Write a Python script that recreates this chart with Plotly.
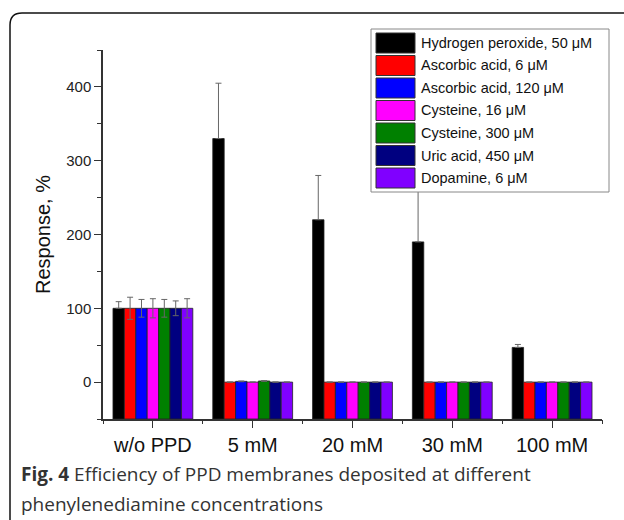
import plotly.graph_objects as go

# ---------------- data ----------------
categories = ["w/o PPD", "5 mM", "20 mM", "30 mM", "100 mM"]
series_names = [
    "Hydrogen peroxide, 50 μM",
    "Ascorbic acid, 6 μM",
    "Ascorbic acid, 120 μM",
    "Cysteine, 16 μM",
    "Cysteine, 300 μM",
    "Uric acid, 450 μM",
    "Dopamine, 6 μM",
]
series_colors = ["#000000", "#FF0000", "#0000FF", "#FF00FF", "#008000", "#000080", "#8000FF"]

h2o2 = [100, 330, 220, 190, 47]
h2o2_err = [9, 75, 60, 75, 4]
asc6 = [100, 0, 0, 0, 0]
asc6_err = [15, 0, 0, 0, 0]
asc120 = [100, 1, 0, 0, 0]
asc120_err = [12, 0.5, 0, 0, 0]
cys16 = [100, 0, 0, 0, 0]
cys16_err = [13, 0, 0, 0, 0]
cys300 = [100, 1.5, 0, 0, 0]
cys300_err = [12, 0.5, 0, 0, 0]
uric = [100, 0, 0, 0, 0]
uric_err = [10, 0, 0, 0, 0]
dopa = [100, 0, 0, 0, 0]
dopa_err = [13, 0, 0, 0, 0]

values = [h2o2, asc6, asc120, cys16, cys300, uric, dopa]
errors = [h2o2_err, asc6_err, asc120_err, cys16_err, cys300_err, uric_err, dopa_err]

y_min, y_max = -50, 450
y_ticks = [0, 100, 200, 300, 400]

FONT = "Arial, Liberation Sans, sans-serif"

# ---------------- layout geometry (pixels) ----------------
W, H = 624, 520
L, R, T, B = 103, 22, 50, 101
PW, PH = W - L - R, H - T - B

def px(x):
    return (x - L) / PW

def py(y):
    return (H - B - y) / PH

fig = go.Figure()

for name, color, vals, errs in zip(series_names, series_colors, values, errors):
    dark = color == "#000000"
    fig.add_trace(go.Bar(
        x=categories,
        y=[v - y_min for v in vals],
        base=y_min,
        name=name,
        marker=dict(color=color, line=dict(color="#222222", width=0.8)),
        error_y=dict(type="data", array=errs, symmetric=not dark,
                     arrayminus=[0] * len(errs) if dark else None, visible=True,
                     color="#666666", thickness=1, width=3),
        showlegend=False,
    ))

# overlay axis for boundary ticks
fig.add_trace(go.Scatter(x=[-0.5, 4.5], y=[0, 0], xaxis="x2", mode="none",
                         showlegend=False, hoverinfo="skip"))

axis_col = "#333333"
fig.update_layout(
    width=W, height=H,
    margin=dict(l=L, r=R, t=T, b=B, pad=0),
    paper_bgcolor="white", plot_bgcolor="white",
    barmode="group", bargap=0.2, bargroupgap=0,
    font=dict(family=FONT, color="#111111"),
    xaxis=dict(
        type="category", categoryorder="array", categoryarray=categories,
        showline=True, linecolor=axis_col, linewidth=1.5,
        ticks="outside", ticklen=7, tickwidth=1.2, tickcolor=axis_col,
        tickfont=dict(size=20, color="#111111", family=FONT),
        showgrid=False, zeroline=False, range=[-0.5, 4.5],
    ),
    xaxis2=dict(
        overlaying="x", range=[-0.5, 4.5],
        tickmode="array", tickvals=[-0.5, 0.5, 1.5, 2.5, 3.5, 4.5],
        ticks="outside", ticklen=4, tickwidth=1.2, tickcolor=axis_col,
        showticklabels=False, showgrid=False, zeroline=False, showline=False,
        side="bottom", anchor="y",
    ),
    yaxis=dict(
        range=[y_min, y_max],
        tickmode="array", tickvals=y_ticks,
        showline=True, linecolor=axis_col, linewidth=1.5,
        ticks="outside", ticklen=7, tickwidth=1.2, tickcolor=axis_col,
        minor=dict(dtick=50, tick0=0, ticks="outside", ticklen=4, tickcolor=axis_col, tickwidth=1.2),
        tickfont=dict(size=15, color="#222222", family=FONT),
        showgrid=False, zeroline=False,
        title=dict(text="Response, %", font=dict(size=20, color="#111111", family=FONT), standoff=10),
    ),
)

shapes = []
annotations = []

# outer frame with rounded top-left corner
x0, ytop, rr = 10, 13, 12
frame_path = (f"M {px(x0)} {py(H + 5)} L {px(x0)} {py(ytop + rr)} "
              f"Q {px(x0)} {py(ytop)} {px(x0 + rr)} {py(ytop)} L {px(W + 5)} {py(ytop)}")
shapes.append(dict(type="path", path=frame_path, xref="paper", yref="paper",
                   line=dict(color="#111111", width=1.5), layer="above"))

# manual legend
lx0, lx1, ly0, ly1 = 371, 609, 29, 192
shapes.append(dict(type="rect", xref="paper", yref="paper",
                   x0=px(lx0), x1=px(lx1), y0=py(ly1), y1=py(ly0),
                   line=dict(color="#888888", width=1), fillcolor="white", layer="above"))
row0, pitch = 43, 22.5
for i, (name, color) in enumerate(zip(series_names, series_colors)):
    cy = row0 + i * pitch
    shapes.append(dict(type="rect", xref="paper", yref="paper",
                       x0=px(376), x1=px(415), y0=py(cy + 10), y1=py(cy - 10),
                       line=dict(color="#333333", width=1), fillcolor=color, layer="above"))
    annotations.append(dict(text=name, xref="paper", yref="paper",
                            x=px(419), y=py(cy), xanchor="left", yanchor="middle",
                            showarrow=False, font=dict(size=14.5, color="#111111", family=FONT)))

# caption
cap_font = dict(size=19, color="#333333", family="Open Sans, Noto Sans")
annotations.append(dict(
    text="<b>Fig. 4</b> Efficiency of PPD membranes deposited at different",
    xref="paper", yref="paper", x=px(19), y=py(474), xanchor="left", yanchor="middle",
    align="left", showarrow=False, font=cap_font,
))
annotations.append(dict(
    text="phenylenediamine concentrations",
    xref="paper", yref="paper", x=px(19), y=py(504), xanchor="left", yanchor="middle",
    align="left", showarrow=False, font=cap_font,
))

fig.update_layout(shapes=shapes, annotations=annotations)

fig.write_html("out.html")
